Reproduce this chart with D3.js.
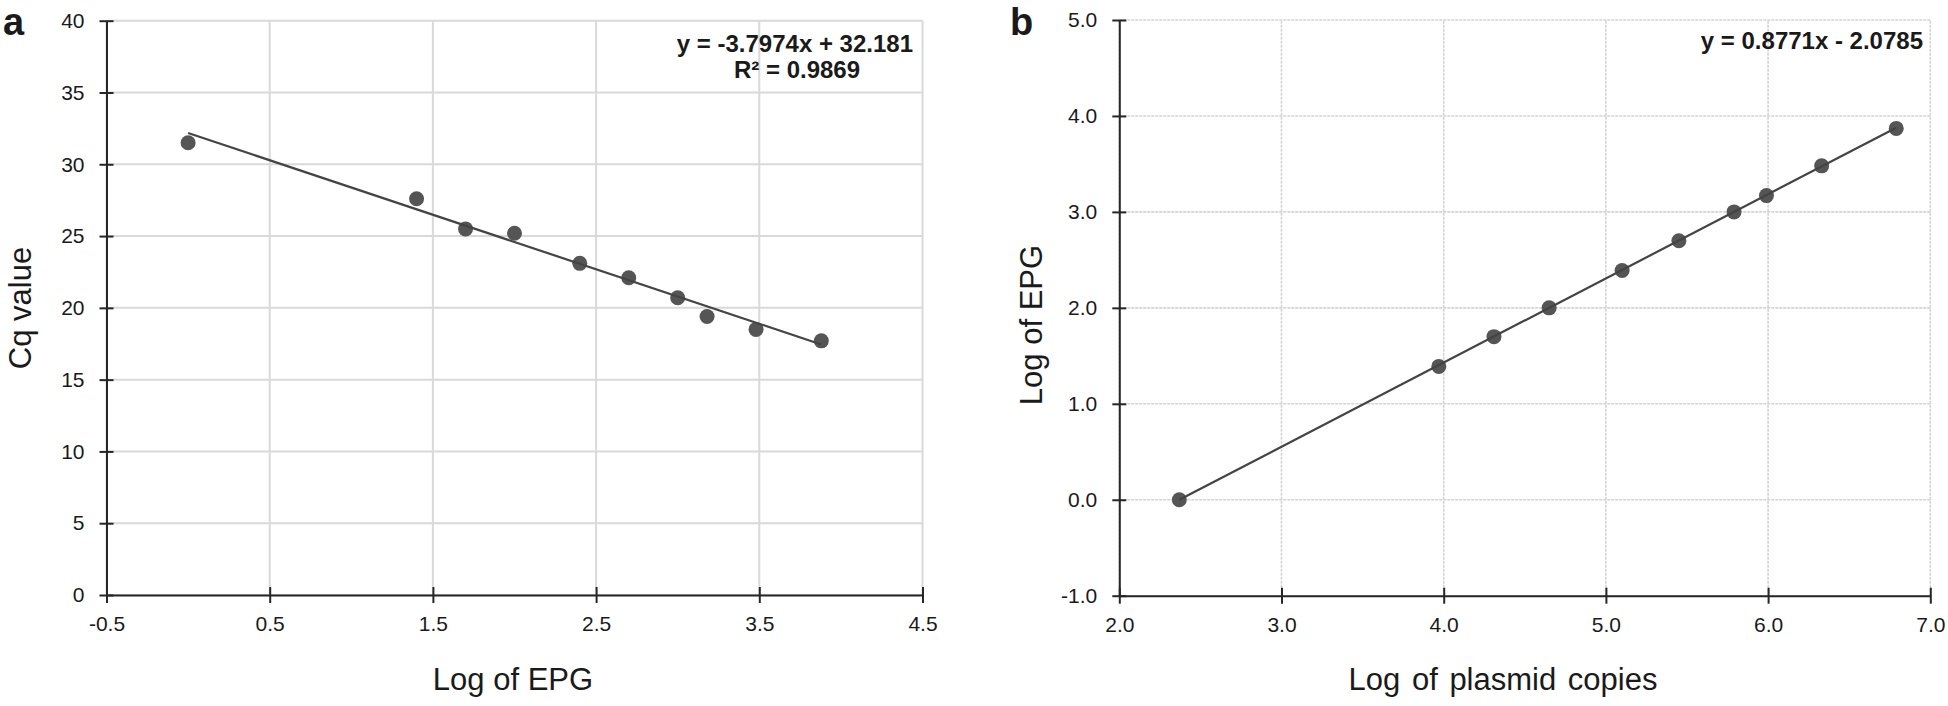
<!DOCTYPE html>
<html>
<head>
<meta charset="utf-8">
<script src="https://cdn.jsdelivr.net/npm/d3@7"></script>
<style>
  html, body { margin: 0; padding: 0; background: #fff; }
  svg { display: block; font-family: "Liberation Sans", Arial, sans-serif; }
</style>
</head>
<body>
<svg id="chart" width="1948" height="706"></svg>
<script>
// ---- Panel a data ----
const logEPG_a = [0, 1.40, 1.70, 2.00, 2.40, 2.70, 3.00, 3.18, 3.48, 3.88];
const cqValues = [31.5, 27.6, 25.5, 25.2, 23.1, 22.1, 20.7, 19.4, 18.5, 17.7];
const xTicksA = [-0.5, 0.5, 1.5, 2.5, 3.5, 4.5];
const yTicksA = [0, 5, 10, 15, 20, 25, 30, 35, 40];
const slopeA = -3.7974, interceptA = 32.181;
const eqA = ["y = -3.7974x + 32.181", "R² = 0.9869"];

// ---- Panel b data ----
const logPlasmid = [2.37, 3.97, 4.31, 4.65, 5.10, 5.45, 5.79, 5.99, 6.33, 6.79];
const logEPG_b = [0.00, 1.39, 1.70, 2.00, 2.39, 2.70, 3.00, 3.17, 3.48, 3.87];
const xTicksB = [2, 3, 4, 5, 6, 7];
const yTicksB = [-1, 0, 1, 2, 3, 4, 5];
const slopeB = 0.8771, interceptB = -2.0785;
const eqB = ["y = 0.8771x - 2.0785"];

const svg = d3.select("#chart");

function panel(opts) {
  const x = d3.scaleLinear().domain(opts.xDomain).range(opts.xRange);
  const y = d3.scaleLinear().domain(opts.yDomain).range(opts.yRange);
  const g = svg.append("g");

  // gridlines
  const grid = g.append("g");
  grid.selectAll("line.gx").data(opts.xTicks).join("line")
    .attr("x1", d => x(d)).attr("x2", d => x(d))
    .attr("y1", y.range()[0]).attr("y2", y.range()[1])
    .attr("stroke", opts.gridColor).attr("stroke-width", opts.gridWidth)
    .attr("stroke-dasharray", opts.gridDash);
  grid.selectAll("line.gy").data(opts.yTicks).join("line")
    .attr("y1", d => y(d)).attr("y2", d => y(d))
    .attr("x1", x.range()[0]).attr("x2", x.range()[1])
    .attr("stroke", opts.gridColor).attr("stroke-width", opts.gridWidth)
    .attr("stroke-dasharray", opts.gridDash);

  // axes
  const xAxis = g.append("g").attr("transform", `translate(0,${y(opts.yDomain[0])})`)
    .call(d3.axisBottom(x).tickValues(opts.xTicks).tickFormat(opts.xFmt)
      .tickSizeInner(8).tickSizeOuter(0).tickPadding(13));
  xAxis.selectAll(".tick line").attr("y1", -8);
  const yAxis = g.append("g").attr("transform", `translate(${x(opts.xDomain[0])},0)`)
    .call(d3.axisLeft(y).tickValues(opts.yTicks).tickFormat(opts.yFmt)
      .tickSizeInner(7).tickSizeOuter(0).tickPadding(15));
  yAxis.selectAll(".tick line").attr("x1", 7);
  [xAxis, yAxis].forEach(a => {
    a.select(".domain").attr("stroke", "#262626").attr("stroke-width", 2);
    a.selectAll(".tick line").attr("stroke", "#262626").attr("stroke-width", 2);
    a.selectAll(".tick text").attr("fill", "#1a1a1a")
      .style("font-size", "21px").style("font-family", '"Liberation Sans", Arial, sans-serif');
  });

  // points
  g.append("g").selectAll("circle").data(opts.xs).join("circle")
    .attr("cx", d => x(d)).attr("cy", (d, i) => y(opts.ys[i]))
    .attr("r", 7.5).attr("fill", "#555555");

  // trend line
  const xmin = d3.min(opts.xs), xmax = d3.max(opts.xs);
  g.append("line")
    .attr("x1", x(xmin)).attr("y1", y(opts.slope * xmin + opts.intercept))
    .attr("x2", x(xmax)).attr("y2", y(opts.slope * xmax + opts.intercept))
    .attr("stroke", "#444").attr("stroke-width", 2.2);

  // equation text
  g.append("text").attr("font-weight", "bold").style("font-size", "24px").attr("fill", "#1a1a1a")
    .attr("x", opts.eqX).attr("y", opts.eqY).attr("text-anchor", "end").text(opts.eq[0]);
  if (opts.eq[1]) {
    g.append("text").attr("font-weight", "bold").style("font-size", "24px").attr("fill", "#1a1a1a")
      .attr("x", opts.eqX2).attr("y", opts.eqY + 26).attr("text-anchor", "middle").text(opts.eq[1]);
  }

  // axis titles
  g.append("text").attr("x", opts.xTitleX).attr("y", 690).attr("text-anchor", "middle")
    .style("font-size", "31px").attr("fill", "#1a1a1a").style("word-spacing", opts.wordSpacing || "0px")
    .text(opts.xTitle);
  g.append("text").attr("transform", `translate(${opts.yTitleX},${opts.yTitleY}) rotate(-90)`)
    .attr("text-anchor", "middle").style("font-size", "31px").attr("fill", "#1a1a1a")
    .text(opts.yTitle);

  // panel letter
  g.append("text").attr("x", opts.letterX).attr("y", 35).attr("font-weight", "bold")
    .style("font-size", "38px").attr("fill", "#1a1a1a").text(opts.letter);
}

panel({
  xDomain: [-0.5, 4.5], yDomain: [0, 40],
  xRange: [106.5, 922.5], yRange: [595, 20.7],
  xTicks: xTicksA, yTicks: yTicksA,
  xFmt: d => d.toFixed(1), yFmt: d => String(d),
  gridColor: "#d9d9d9", gridWidth: 2, gridDash: null,
  xs: logEPG_a, ys: cqValues, slope: slopeA, intercept: interceptA,
  eq: eqA, eqX: 913, eqY: 52, eqX2: 797,
  xTitle: "Log of EPG", xTitleX: 513, yTitle: "Cq value", yTitleX: 31, yTitleY: 308,
  letter: "a", letterX: 3
});

panel({
  xDomain: [2, 7], yDomain: [-1, 5],
  xRange: [1119.3, 1930.3], yRange: [595.7, 20],
  xTicks: xTicksB, yTicks: yTicksB,
  xFmt: d => d.toFixed(1), yFmt: d => d.toFixed(1),
  gridColor: "#d4d4d4", gridWidth: 1.6, gridDash: "3,1",
  xs: logPlasmid, ys: logEPG_b, slope: slopeB, intercept: interceptB,
  eq: eqB, eqX: 1923, eqY: 49,
  xTitle: "Log of plasmid copies", xTitleX: 1503, wordSpacing: "3px",
  yTitle: "Log of EPG", yTitleX: 1042, yTitleY: 325,
  letter: "b", letterX: 1010
});
</script>
</body>
</html>
